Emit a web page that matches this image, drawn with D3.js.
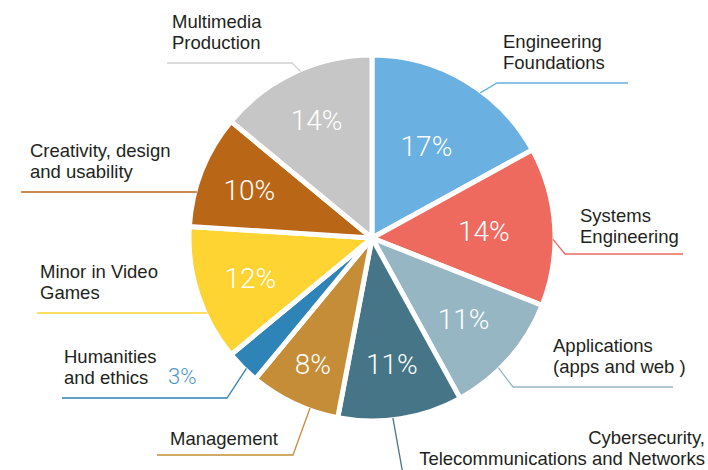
<!DOCTYPE html>
<html>
<head>
<meta charset="utf-8">
<script src="https://cdn.jsdelivr.net/npm/d3@7"></script>
<style>
  html, body { margin: 0; padding: 0; background: #fff; }
  svg { display: block; }
  .lbl { font-family: "Liberation Sans", Arial, sans-serif; font-size: 18.5px; fill: #231f20; }
  .pct { font-family: Roboto, "Noto Sans", sans-serif; font-weight: 300; font-size: 28px; fill: #fff; }
</style>
</head>
<body>
<div id="chart"></div>
<script>
// data, clockwise from 12 o'clock
const categories = [
  "Engineering Foundations", "Systems Engineering", "Applications (apps and web )",
  "Cybersecurity, Telecommunications and Networks", "Management", "Humanities and ethics",
  "Minor in Video Games", "Creativity, design and usability", "Multimedia Production"
];
const values = [17, 14, 11, 11, 8, 3, 12, 10, 14];
const colors = ["#6ab0e0", "#ee6a5f", "#97b6c4", "#457586", "#c58d38", "#2e83b7", "#fdd431", "#ba6617", "#c6c6c6"];
const lineColors = ["#6ab0e0", "#ee6a5f", "#97b6c4", "#457586", "#c58d38", "#2e83b7", "#fdd431", "#ba6617", "#d0d0d0"];
// wrapped text of the outside labels
const labelLines = [
  ["Engineering", "Foundations"],
  ["Systems", "Engineering"],
  ["Applications", "(apps and web )"],
  ["Cybersecurity,", "Telecommunications and Networks"],
  ["Management"],
  ["Humanities", "and ethics"],
  ["Minor in Video", "Games"],
  ["Creativity, design", "and usability"],
  ["Multimedia", "Production"]
];

const width = 708, height = 470;
const cx = 372, cy = 238, R = 183;

// where the outside labels and their leader lines sit
// t = position along the slice where the leader starts, elbowX null = straight horizontal line
const labelLayout = [
  { t: 0.60, elbowX: 497, lineY: 83,  endX: 628, tx: 503, ty: 48,  anchor: "start" },
  { t: 0.58, elbowX: 565, lineY: 254, endX: 683, tx: 580, ty: 222, anchor: "start" },
  { t: 0.61, elbowX: 513, lineY: 387, endX: 673, tx: 553, ty: 352, anchor: "start" },
  { t: 0.56, elbowX: 404, lineY: 480, endX: 404, tx: 705, ty: 444, anchor: "end" },
  { t: 0.32, elbowX: 293, lineY: 455, endX: 157, tx: 170, ty: 445, anchor: "start" },
  { t: 0.40, elbowX: 227, lineY: 398, endX: 62,  tx: 64,  ty: 363, anchor: "start" },
  { t: null, elbowX: null, lineY: 313, endX: 37,  tx: 40,  ty: 278, anchor: "start" },
  { t: null, elbowX: null, lineY: 192, endX: 21,  tx: 30,  ty: 157, anchor: "start" },
  { t: 0.54, elbowX: 292, lineY: 63,  endX: 167, tx: 172, ty: 28,  anchor: "start" }
];
// radius of the white percentage inside each slice (Humanities is drawn outside)
const pctRadius = [107, 112, 122, 127, 139, null, 128, 132, 130];

const svg = d3.select("#chart").append("svg")
  .attr("width", width)
  .attr("height", height);

const g = svg.append("g").attr("transform", "translate(" + cx + "," + cy + ")");

const pie = d3.pie().sort(null).value(d => d);
const arcs = pie(values);
const arc = d3.arc().innerRadius(0).outerRadius(R);

// slices, white stroke gives the gaps
g.selectAll("path.slice")
  .data(arcs)
  .enter().append("path")
  .attr("class", "slice")
  .attr("d", arc)
  .attr("fill", (d, i) => colors[i])
  .attr("stroke", "#fff")
  .attr("stroke-width", 5)
  .attr("stroke-linejoin", "round");

// percentages inside the slices
g.selectAll("text.pct")
  .data(arcs.filter((d, i) => pctRadius[i] !== null))
  .enter().append("text")
  .attr("class", "pct")
  .attr("text-anchor", "middle")
  .attr("dy", "0.36em")
  .attr("transform", d => {
    const r = pctRadius[d.index];
    const a = (d.startAngle + d.endAngle) / 2;
    return "translate(" + (Math.sin(a) * r) + "," + (-Math.cos(a) * r) + ")";
  })
  .text(d => d.data + "%");

// leader lines
const lineR = R - 2;
svg.selectAll("path.leader")
  .data(arcs)
  .enter().append("path")
  .attr("class", "leader")
  .attr("fill", "none")
  .attr("stroke", (d, i) => lineColors[i])
  .attr("stroke-width", 1.3)
  .attr("d", (d, i) => {
    const L = labelLayout[i];
    if (L.t === null) {
      // horizontal line that touches the arc
      const dy = L.lineY - cy;
      const sx = cx - Math.sqrt(lineR * lineR - dy * dy);
      return "M" + sx + "," + L.lineY + "L" + L.endX + "," + L.lineY;
    }
    const a = d.startAngle + (d.endAngle - d.startAngle) * L.t;
    const sx = cx + Math.sin(a) * lineR, sy = cy - Math.cos(a) * lineR;
    return "M" + sx + "," + sy + "L" + L.elbowX + "," + L.lineY + "L" + L.endX + "," + L.lineY;
  });

// category labels
const lbl = svg.selectAll("text.lbl")
  .data(categories)
  .enter().append("text")
  .attr("class", "lbl")
  .attr("x", (d, i) => labelLayout[i].tx)
  .attr("y", (d, i) => labelLayout[i].ty)
  .attr("text-anchor", (d, i) => labelLayout[i].anchor);

lbl.selectAll("tspan")
  .data((d, i) => labelLines[i].map(s => ({ s: s, i: i })))
  .enter().append("tspan")
  .attr("x", d => labelLayout[d.i].tx)
  .attr("dy", (d, j) => j === 0 ? 0 : 21)
  .text(d => d.s);

// Humanities percentage sits outside, in the slice colour
const hIdx = 5;
svg.append("text")
  .attr("x", 168)
  .attr("y", 384)
  .attr("fill", "#4a95c8")
  .style("font-family", "Roboto, 'Noto Sans', sans-serif")
  .style("font-weight", 300)
  .style("font-size", "22px")
  .text(values[hIdx] + "%");
</script>
</body>
</html>
